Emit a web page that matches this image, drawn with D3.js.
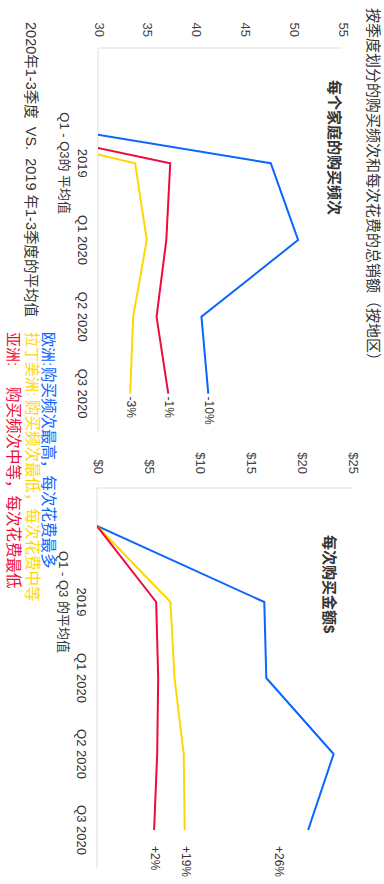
<!DOCTYPE html>
<html lang="zh">
<head>
<meta charset="utf-8">
<title>按季度划分的购买频次和每次花费的总销额</title>
<script src="https://d3js.org/d3.v7.min.js"></script>
<style>
  body { margin: 0; background: #fff; }
  svg { display: block; }
  text { font-family: "Liberation Sans", "Noto Sans CJK SC", sans-serif; }
</style>
</head>
<body>
<script>
// categories (first one is an unlabeled start point at zero)
var categories = ["", "2019", "Q1 2020", "Q2 2020", "Q3 2020"];
var regions = ["欧洲", "拉丁美洲", "亚洲"];

// purchase frequency per household
var freqEurope = [0, 47.7, 50.5, 40.6, 41.3];
var freqLatam  = [0, 33.8, 35.0, 33.6, 33.3];
var freqAsia   = [0, 37.4, 37.0, 36.0, 37.2];
var freqChange = ["-10%", "-3%", "-1%"];
var freqTicks  = [30, 35, 40, 45, 50, 55];

// spend per purchase ($)
var spendEurope = [0, 16.4, 16.6, 23.2, 20.7];
var spendLatam  = [0, 7.2, 7.6, 8.5, 8.6];
var spendAsia   = [0, 5.8, 6.0, 5.9, 5.6];
var spendChange = ["+26%", "+19%", "+2%"];
var spendTicks  = [0, 5, 10, 15, 20, 25];

var colors = ["#0a64ff", "#ffd700", "#ee0a3c"];

// the chart is drawn 884x384 and turned a quarter clockwise
var W = 884, H = 384;
var svg = d3.select("body").append("svg")
    .attr("width", 384)
    .attr("height", 884);

var g = svg.append("g")
    .attr("transform", "translate(384,0) rotate(90)");

g.append("text")
    .attr("x", 8).attr("y", 12)
    .attr("dominant-baseline", "middle")
    .attr("font-size", 15)
    .attr("fill", "#333")
    .text("按季度划分的购买频次和每次花费的总销额（按地区）");

function panel(opt) {
  var x = d3.scalePoint().domain(categories).range(opt.xr).padding(0.5);
  var y = d3.scaleLinear().domain(opt.domain).range(opt.yr);

  var p = g.append("g");

  p.append("text")
      .attr("x", opt.titleX).attr("y", opt.titleY)
      .attr("dominant-baseline", "middle")
      .attr("font-size", 15)
      .attr("font-weight", "bold")
      .attr("fill", "#333")
      .text(opt.title);

  // axis lines
  p.append("line")
      .attr("x1", opt.xr[0]).attr("x2", opt.xr[0])
      .attr("y1", opt.yr[0]).attr("y2", opt.yr[1])
      .attr("stroke", "#ddd");
  p.append("line")
      .attr("x1", opt.xr[0]).attr("x2", opt.xr[1])
      .attr("y1", opt.yr[0]).attr("y2", opt.yr[0])
      .attr("stroke", "#ddd");

  p.selectAll(".ytick")
    .data(opt.ticks)
    .enter().append("text")
      .attr("x", opt.xr[0] - opt.tickPad)
      .attr("y", function(d) { return y(d); })
      .attr("text-anchor", "end")
      .attr("dominant-baseline", "middle")
      .attr("font-size", 13)
      .attr("fill", "#444")
      .text(opt.tickFormat);

  // category labels
  p.selectAll(".xtick")
    .data(categories.slice(1))
    .enter().append("text")
      .attr("x", function(d) { return x(d); })
      .attr("y", opt.yr[0] + 17)
      .attr("text-anchor", "middle")
      .attr("dominant-baseline", "middle")
      .attr("font-size", 13)
      .attr("fill", "#333")
      .text(function(d) { return d; });
  p.append("text")
      .attr("x", x("2019"))
      .attr("y", opt.yr[0] + 35)
      .attr("text-anchor", "middle")
      .attr("dominant-baseline", "middle")
      .attr("font-size", 13)
      .attr("fill", "#333")
      .text(opt.avgLabel);

  var clipId = "clip" + opt.id;
  p.append("clipPath").attr("id", clipId)
    .append("rect")
      .attr("x", opt.xr[0]).attr("y", opt.yr[1])
      .attr("width", opt.xr[1] - opt.xr[0])
      .attr("height", opt.yr[0] - opt.yr[1]);

  var line = d3.line()
      .x(function(d, i) { return x(categories[i]); })
      .y(function(d) { return y(d); });

  p.append("g").attr("clip-path", "url(#" + clipId + ")")
    .selectAll("path")
    .data(opt.series)
    .enter().append("path")
      .attr("d", function(d) { return line(d); })
      .attr("fill", "none")
      .attr("stroke", function(d, i) { return colors[i]; })
      .attr("stroke-width", 2);

  var last = categories[categories.length - 1];
  p.selectAll(".endlabel")
    .data(opt.series)
    .enter().append("text")
      .attr("x", x(last) + opt.labelPad)
      .attr("y", function(d, i) { return y(d[d.length - 1]) + opt.labelDy[i]; })
      .attr("dominant-baseline", "middle")
      .attr("font-size", 12)
      .attr("fill", "#333")
      .text(function(d, i) { return opt.changes[i]; });
}

panel({
  id: 1,
  title: "每个家庭的购买频次",
  titleX: 80, titleY: 51,
  xr: [48, 432], yr: [286, 42],
  domain: [30, 55],
  ticks: freqTicks,
  tickPad: 11,
  tickFormat: function(d) { return d; },
  avgLabel: "Q1 - Q3的 平均值",
  series: [freqEurope, freqLatam, freqAsia],
  changes: freqChange,
  labelPad: 3,
  labelDy: [0, 0, 0]
});

panel({
  id: 2,
  title: "每次购买金额$",
  titleX: 535, titleY: 56,
  xr: [488, 868], yr: [287, 32],
  domain: [0, 25],
  ticks: spendTicks,
  tickPad: 14,
  tickFormat: function(d) { return "$" + d; },
  avgLabel: "Q1 - Q3 的平均值",
  series: [spendEurope, spendLatam, spendAsia],
  changes: spendChange,
  labelPad: 16,
  labelDy: [30, 0, 0]
});

// footnote and legend
g.append("text")
    .attr("x", 22).attr("y", 354)
    .attr("dominant-baseline", "middle")
    .attr("font-size", 14.5)
    .attr("fill", "#333")
    .attr("xml:space", "preserve")
    .text("2020年1-3季度  VS.  2019 年1-3季度的平均值");

var legendText = [
  [regions[0] + ":", "购买频次最高，每次花费最多"],
  [regions[1] + ":", "购买频次最低，每次花费中等"],
  [regions[2] + ":", "购买频次中等，每次花费最低"]
];
var legendRest = [367, 400, 387];
var legendY = [337, 353, 372];

var lg = g.selectAll(".legend")
  .data(legendText)
  .enter().append("text")
    .attr("y", function(d, i) { return legendY[i]; })
    .attr("dominant-baseline", "middle")
    .attr("font-size", 15.5)
    .attr("fill", function(d, i) { return colors[i]; });
lg.append("tspan")
    .attr("x", 332)
    .attr("font-size", 15)
    .text(function(d) { return d[0]; });
lg.append("tspan")
    .attr("x", function(d, i) { return legendRest[i]; })
    .text(function(d) { return d[1]; });
</script>
</body>
</html>
